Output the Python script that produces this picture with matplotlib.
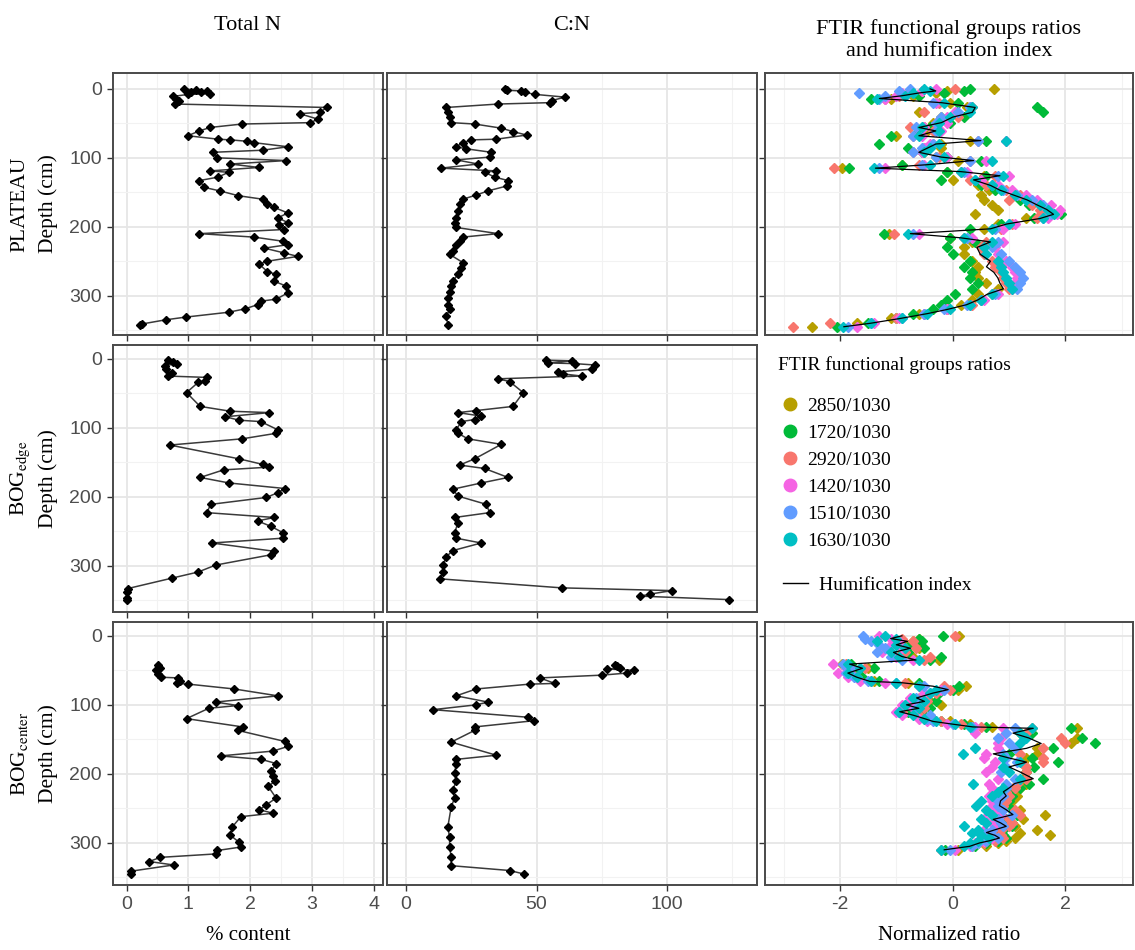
"""
Perfiles de N total, C:N y razones FTIR en PLATEAU, BOG edge y BOG center
"""
import matplotlib
matplotlib.use('Agg')
import matplotlib.pyplot as plt
from matplotlib.lines import Line2D

plt.rcParams['font.family'] = ['Liberation Serif', 'DejaVu Serif']
plt.rcParams['mathtext.fontset'] = 'stix'
plt.rcParams['axes.unicode_minus'] = False

# ---- Total N (%) ----
n_plateau_depth = [0, 2, 3, 4, 5, 7, 8, 11, 14, 18, 22, 27, 34, 36, 44, 49, 51, 56, 61, 68,
                   73, 74, 76, 78, 84, 89, 92, 100, 104, 109, 114, 119, 121, 128, 133, 143,
                   148, 155, 160, 167, 172, 180, 187, 194, 197, 204, 210, 215, 221, 226, 231,
                   238, 243, 250, 254, 265, 269, 279, 286, 296, 305, 308, 313, 319, 324, 331,
                   335, 341, 343]
n_plateau = [0.93, 1.13, 1.3, 1.05, 1.2, 1.35, 1.0, 0.75, 0.8, 0.85, 0.78, 3.24, 3.13, 2.8,
             3.1, 2.97, 1.87, 1.35, 1.18, 0.99, 1.48, 1.68, 1.95, 2.06, 2.61, 2.2, 1.4, 1.46,
             2.58, 1.68, 2.14, 1.35, 1.65, 1.48, 1.18, 1.26, 1.51, 1.81, 2.2, 2.28, 2.39, 2.61,
             2.45, 2.61, 2.47, 2.55, 1.18, 2.06, 2.53, 2.61, 2.23, 2.55, 2.77, 2.28, 2.14,
             2.28, 2.42, 2.39, 2.58, 2.61, 2.42, 2.17, 2.12, 1.92, 1.65, 0.96, 0.63, 0.25, 0.22]

n_edge_depth = [2, 4, 7, 10, 15, 20, 25, 27, 32, 34, 49, 69, 76, 78, 84, 89, 91, 103, 108, 116,
                125, 145, 153, 157, 161, 172, 180, 188, 194, 201, 211, 223, 230, 235, 243, 252,
                260, 267, 279, 284, 299, 309, 318, 333, 338, 346, 350]
n_edge = [0.67, 0.75, 0.81, 0.62, 0.64, 0.73, 0.67, 1.3, 1.27, 1.16, 0.97, 1.19, 1.68, 2.31,
          1.6, 1.82, 2.17, 2.45, 2.42, 1.87, 0.7, 1.82, 2.2, 2.31, 1.57, 1.19, 1.66, 2.56, 2.45,
          2.26, 1.36, 1.3, 2.39, 2.12, 2.34, 2.53, 2.53, 1.38, 2.39, 2.34, 1.44, 1.16, 0.73,
          0.02, 0.0, 0.0, 0.0]

n_center_depth = [42, 47, 50, 56, 60, 61, 65, 69, 70, 77, 87, 96, 101, 105, 120, 132, 137, 153,
                  160, 167, 174, 179, 185, 196, 203, 211, 218, 235, 245, 252, 257, 262, 277, 289,
                  299, 306, 311, 316, 321, 327, 332, 341, 345]
n_center = [0.51, 0.54, 0.48, 0.51, 0.55, 0.84, 0.86, 0.81, 1.0, 1.74, 2.45, 1.44, 1.8, 1.33,
            0.97, 1.88, 1.8, 2.56, 2.62, 2.37, 1.52, 2.18, 2.42, 2.34, 2.37, 2.4, 2.29, 2.42,
            2.26, 2.15, 2.37, 1.85, 1.71, 1.68, 1.82, 1.85, 1.47, 1.44, 0.54, 0.37, 0.76, 0.07,
            0.07]

# ---- C:N ----
cn_plateau_depth = [0, 2, 3, 5, 8, 12, 17, 20, 22, 27, 34, 41, 49, 51, 57, 62, 67, 73, 74, 78,
                    84, 87, 92, 99, 103, 109, 115, 119, 121, 128, 133, 141, 148, 154, 160, 167,
                    177, 187, 194, 201, 210, 215, 221, 226, 235, 240, 252, 260, 269, 279, 286,
                    294, 303, 313, 320, 330, 342]
cn_plateau = [37.8, 38.5, 44.2, 45.5, 49.4, 60.9, 55.8, 55.1, 35.3, 15.4, 16.0, 16.7, 17.3,
              26.3, 36.5, 41.0, 46.2, 34.6, 25.0, 21.8, 19.2, 23.1, 32.7, 32.0, 19.2, 27.6,
              13.5, 34.6, 30.1, 34.0, 39.1, 38.5, 31.4, 26.9, 21.8, 20.5, 19.9, 19.2, 18.6,
              19.2, 35.3, 21.8, 20.5, 19.2, 17.9, 16.7, 21.8, 21.2, 19.9, 17.9, 17.3, 16.7,
              16.0, 16.0, 16.7, 15.4, 16.0]

cn_edge_depth = [2, 3, 6, 7, 9, 15, 19, 22, 25, 29, 33, 49, 69, 75, 78, 83, 88, 91, 103, 108,
                 116, 124, 145, 154, 159, 172, 180, 189, 199, 211, 223, 230, 238, 252, 260, 267,
                 278, 287, 299, 309, 319, 332, 336, 341, 344, 349]
cn_edge = [53.8, 63.5, 54.5, 64.7, 72.4, 71.2, 58.3, 60.3, 67.3, 35.3, 39.7, 44.9, 41.0, 26.9,
           19.9, 28.8, 26.3, 21.2, 19.2, 19.9, 23.7, 36.5, 26.3, 20.5, 30.1, 39.1, 28.8, 17.9,
           19.9, 30.8, 32.0, 18.6, 19.9, 18.6, 19.2, 28.8, 17.9, 15.4, 14.1, 14.1, 13.2, 59.6,
           101.9, 93.6, 89.7, 123.7]

cn_center_depth = [42, 44, 47, 48, 50, 54, 57, 61, 69, 70, 77, 87, 96, 100, 107, 118, 123, 132,
                   137, 154, 173, 179, 186, 199, 211, 223, 235, 248, 277, 292, 306, 321, 333,
                   340, 345]
cn_center = [80.1, 81.0, 82.0, 77.0, 87.2, 84.6, 75.0, 51.3, 57.0, 47.4, 26.9, 19.2, 31.4, 26.9,
             10.3, 46.8, 49.0, 26.3, 26.3, 17.3, 34.6, 19.2, 19.2, 18.6, 19.2, 17.9, 18.6, 17.3,
             16.0, 16.7, 16.7, 17.3, 17.3, 39.7, 45.1]

# ---- FTIR (razones normalizadas) e índice de humificación ----
ratio_names = ['2850/1030', '1720/1030', '2920/1030', '1420/1030', '1510/1030', '1630/1030']
ratio_colors = ['#B79F00', '#00BA38', '#F8766D', '#F564E3', '#619CFF', '#00BFC4']

ftir_plateau_depth = [0, 3, 6, 10, 14, 20, 27, 34, 41, 49, 56, 61, 68, 75, 80, 86, 92, 99, 104,
                      110, 115, 120, 126, 132, 140, 147, 154, 161, 168, 175, 182, 188, 196, 203,
                      210, 216, 222, 230, 240, 250, 258, 266, 274, 282, 290, 298, 306, 313, 320,
                      326, 333, 340, 345]
hi_plateau = [-0.4, -0.3, -0.6, -0.9, -1.3, -0.2, 0.4, 0.35, 0.0, -0.2, -0.6, -0.3, -0.6, 0.5,
              -0.3, -0.45, -0.6, -0.2, 0.37, -0.45, -1.37, 0.14, 0.84, 0.37, 0.67, 0.84, 1.08,
              1.32, 1.49, 1.67, 1.79, 1.55, 0.96, 0.67, -0.75, 0.14, 0.67, 0.43, 0.49, 0.67,
              0.6, 0.73, 0.8, 0.84, 0.9, 0.61, 0.45, 0.25, -0.1, -0.45, -0.93, -1.46, -1.93]
r2850_plateau = [0.73, -0.1, -0.3, -0.7, -1.1, -0.05, 0.25, -0.6, -0.2, -0.35, -0.5, -0.45,
                 -1.0, 0.3, -0.2, -0.2, -0.5, -0.3, 0.1, -0.9, -1.96, -0.1, 0.55, 0.0, 0.45,
                 0.65, 0.5, 0.55, 0.7, 0.8, 0.4, 1.3, 0.8, 0.55, -1.13, -0.05, 0.35, 0.2, 0.2,
                 0.35, 0.45, 0.4, 0.45, 0.6, 0.8, 0.45, 0.35, 0.15, -0.1, -0.6, -1.1, -1.7, -2.49]
r1720_plateau = [0.3, 0.2, -0.15, -0.6, -1.45, 0.1, 1.49, 1.61, 0.2, -0.05, -0.4, -0.6, -1.1,
                 0.6, -1.3, -0.8, -0.55, -0.1, 0.5, -0.9, -1.84, -0.1, 0.6, -0.2, 0.5, 0.75,
                 1.1, 1.2, 1.35, 1.6, 1.93, 1.45, 0.85, 0.3, -1.22, -0.05, 0.4, -0.1, 0.0, 0.3,
                 0.2, 0.35, 0.3, 0.45, 0.35, 0.05, -0.1, -0.2, -0.35, -0.7, -1.0, -1.5, -2.06]
r2920_plateau = [0.05, -0.55, -0.8, -0.95, -1.2, -0.25, 0.35, -0.5, 0.1, -0.3, -0.75, -0.35,
                 -0.7, 0.45, -0.35, -0.5, -0.7, -0.25, 0.3, -0.6, -2.1, 0.15, 0.75, 0.3, 0.6,
                 0.95, 1.2, 1.0, 1.4, 1.55, 1.7, 1.5, 1.05, 0.85, -1.04, 0.2, 0.6, 0.5, 0.55,
                 0.7, 0.75, 0.85, 0.9, 0.95, 1.0, 0.7, 0.5, 0.35, -0.1, -0.5, -1.0, -2.17, -2.84]
r1420_plateau = [-0.3, -0.55, -0.9, -1.0, -1.2, -0.3, 0.3, 0.05, -0.1, -0.1, -0.5, -0.2, -0.55,
                 0.95, -0.4, -0.5, -0.55, -0.1, 0.6, -0.5, -1.2, 0.25, 1.0, 0.5, 0.8, 1.05, 1.3,
                 1.5, 1.75, 1.9, 1.85, 1.7, 1.1, 0.9, -0.6, 0.35, 0.9, 0.75, 0.8, 0.95, 1.05,
                 1.1, 1.15, 1.1, 1.05, 0.8, 0.55, 0.3, -0.1, -0.5, -0.95, -1.4, -1.7]
r1510_plateau = [-0.75, -0.95, -1.66, -1.2, -1.3, -0.35, 0.3, 0.1, -0.2, -0.3, -0.65, -0.3,
                 -0.7, 0.45, -0.35, -0.55, -0.7, -0.3, 0.3, -0.55, -1.3, 0.2, 0.8, 0.4, 0.7,
                 0.9, 1.15, 1.4, 1.6, 1.7, 1.75, 1.6, 1.0, 0.75, -0.7, 0.25, 0.8, 0.7, 0.85, 1.0,
                 1.1, 1.2, 1.25, 1.2, 1.15, 0.75, 0.5, 0.25, -0.15, -0.5, -0.9, -1.45, -1.85]
r1630_plateau = [-0.5, -0.4, -0.7, -0.85, -1.35, -0.15, 0.35, 0.3, -0.05, -0.25, -0.55, -0.25,
                 -0.6, 0.95, -0.25, -0.4, -0.5, -0.15, 0.7, -0.4, -1.4, 0.15, 0.9, 0.4, 0.7,
                 0.85, 1.1, 1.3, 1.55, 1.7, 1.8, 1.6, 1.0, 0.7, -0.8, 0.2, 0.7, 0.55, 0.6, 0.8,
                 0.85, 0.9, 0.95, 1.0, 1.05, 0.7, 0.5, 0.3, -0.05, -0.45, -0.9, -1.45, -1.95]

ftir_center_depth = [0, 4, 8, 13, 18, 24, 30, 35, 41, 47, 54, 60, 66, 68, 73, 78, 83, 90, 95,
                     100, 105, 110, 115, 120, 124, 128, 132, 134, 141, 148, 156, 163, 171, 177,
                     183, 190, 197, 207, 214, 220, 226, 232, 239, 246, 252, 259, 266, 271, 276,
                     281, 285, 289, 293, 297, 300, 305, 310]
hi_center = [-0.9, -1.1, -0.8, -1.0, -0.75, -1.05, -0.9, -0.65, -1.83, -1.6, -1.86, -1.7, -1.47,
             -0.9, -0.35, -0.08, -0.35, -0.64, -0.5, -0.82, -0.6, -0.94, -0.7, -0.5, -0.35, 0.0,
             0.36, 1.43, 1.07, 1.35, 1.57, 1.31, 0.72, 1.0, 1.31, 1.0, 1.19, 1.43, 1.1, 1.01,
             0.9, 0.95, 0.85, 0.83, 0.95, 1.07, 0.72, 0.85, 0.95, 0.75, 0.6, 0.75, 0.83, 0.65,
             0.48, 0.3, -0.15]
r2850_center = [0.12, -0.6, -0.7, -0.8, -0.6, -0.9, -0.7, -0.25, -1.97, -1.5, -1.8, -1.65, -1.4,
                -0.8, 0.24, 0.1, -0.3, -0.5, -0.4, -0.2, -0.5, -0.85, -0.6, -0.4, -0.05, 0.3,
                0.7, 2.2, 1.2, 2.2, 2.1, 1.5, 1.49, 1.3, 1.25, 1.3, 1.3, 1.25, 1.3, 1.2, 1.1,
                1.15, 1.05, 1.0, 1.2, 1.63, 1.25, 1.05, 1.1, 1.49, 1.2, 1.72, 1.1, 0.95, 0.8,
                0.6, 0.1]
r1720_center = [-0.18, -0.6, -0.55, -0.75, -0.5, -0.8, -0.2, -0.4, -1.8, -1.4, -1.75, -1.6,
                -1.3, -0.6, 0.12, 0.0, -0.25, -0.55, -0.3, -0.7, -0.4, -0.8, -0.5, -0.45, -0.2,
                0.2, 0.6, 2.1, 1.4, 2.3, 2.52, 1.78, 1.0, 1.4, 1.87, 1.45, 1.3, 1.6, 1.35, 1.2,
                1.0, 1.05, 1.0, 0.95, 1.05, 1.15, 0.95, 0.9, 1.05, 0.9, 0.75, 0.9, 0.95, 0.8,
                0.6, 0.4, -0.14]
r2920_center = [0.05, -0.9, -0.7, -0.9, -0.65, -0.85, -0.4, -0.5, -1.9, -1.55, -1.8, -1.7,
                -1.45, -0.85, -0.15, -0.05, -0.3, -0.6, -0.45, -0.75, -0.5, -0.9, -0.6, -0.35,
                -0.2, 0.15, 0.5, 1.4, 1.3, 1.93, 2.0, 1.6, 1.2, 1.6, 1.6, 1.3, 1.3, 1.3, 1.15,
                1.1, 0.95, 1.0, 0.95, 0.9, 1.1, 1.2, 1.0, 1.05, 1.0, 0.85, 0.7, 0.85, 0.9, 0.75,
                0.55, 0.35, -0.2]
r1420_center = [-1.3, -1.1, -0.95, -1.1, -0.9, -1.25, -1.0, -0.7, -2.12, -1.9, -2.03, -1.85,
                -1.65, -1.2, -0.6, -0.2, -0.5, -0.75, -0.6, -0.9, -0.7, -1.0, -0.9, -0.6, -0.45,
                -0.1, 0.4, 0.9, 0.39, 0.85, 0.8, 0.8, 0.6, 0.55, 0.75, 0.7, 0.6, 0.8, 0.65, 0.7,
                0.75, 0.65, 0.7, 0.7, 0.8, 0.85, 0.55, 0.7, 0.75, 0.55, 0.5, 0.6, 0.7, 0.55,
                0.4, 0.3, 0.05]
r1510_center = [-1.59, -1.55, -1.45, -1.3, -1.2, -1.35, -1.1, -0.9, -1.95, -1.8, -1.9, -1.75,
                -1.5, -1.0, -0.5, -0.15, -0.4, -0.65, -0.5, -0.85, -0.65, -0.95, -0.4, -0.45,
                -0.35, 0.0, 0.35, 1.1, 0.95, 0.8, 1.0, 1.1, 0.9, 0.95, 1.15, 0.95, 0.85, 1.1,
                0.95, 0.95, 0.85, 0.9, 0.8, 0.8, 0.9, 1.05, 0.8, 0.85, 0.9, 0.7, 0.6, 0.7, 0.8,
                0.6, 0.45, 0.35, -0.05]
r1630_center = [-1.2, -1.0, -1.35, -1.0, -0.85, -1.1, -0.95, -0.6, -1.85, -1.65, -1.85, -1.7,
                -1.45, -1.0, -0.6, -0.3, -0.4, -0.7, -0.5, -0.85, -0.6, -0.95, -0.7, -0.5, -0.3,
                0.05, 0.3, 1.4, 1.2, 1.3, 1.2, 0.4, 0.18, 0.9, 1.2, 0.9, 1.0, 1.2, 0.36, 0.9,
                0.8, 0.7, 0.5, 0.42, 0.6, 0.7, 0.5, 0.6, 0.21, 0.45, 0.35, 0.5, 0.65, 0.45, 0.3,
                0.2, -0.2]

ftir_plateau = [r2850_plateau, r1720_plateau, r2920_plateau,
                r1420_plateau, r1510_plateau, r1630_plateau]
ftir_center = [r2850_center, r1720_center, r2920_center,
               r1420_center, r1510_center, r1630_center]

# ---- layout (fracciones de figura) ----
W, H = 1135, 950
col_x = [(113, 383), (387, 757), (765, 1133)]
row_y = [(73, 335), (345, 612), (622, 885)]
row_names = ['PLATEAU', r'BOG$_{\mathrm{edge}}$', r'BOG$_{\mathrm{center}}$']

xlims = [(-0.22, 4.15), (-7.3, 134.5), (-3.33, 3.2)]
xmajor = [[0, 1, 2, 3, 4], [0, 50, 100], [-2, 0, 2]]
xminor = [[0.5, 1.5, 2.5, 3.5], [25, 75, 125], [-3, -1, 1, 3]]
ylims = [(357, -23), (367, -20), (361, -20)]

fig = plt.figure(figsize=(W / 100, H / 100), dpi=100)


def make_ax(r, c):
    x0, x1 = col_x[c]
    y0, y1 = row_y[r]
    ax = fig.add_axes([x0 / W, 1 - y1 / H, (x1 - x0) / W, (y1 - y0) / H])
    ax.set_xlim(xlims[c])
    ax.set_ylim(ylims[r])
    ax.set_xticks(xmajor[c])
    ax.set_xticks(xminor[c], minor=True)
    ax.set_yticks([0, 100, 200, 300])
    ax.set_yticks([50, 150, 250, 350], minor=True)
    ax.grid(True, which='major', color='#E6E6E6', linewidth=1.3)
    ax.grid(True, which='minor', color='#F2F2F2', linewidth=0.8)
    ax.set_axisbelow(True)
    for s in ax.spines.values():
        s.set_color('#4A4A4A')
        s.set_linewidth(1.4)
    ax.tick_params(which='major', length=4, width=1.0, color='#333333',
                   labelcolor='#4D4D4D', labelsize=14, pad=4)
    ax.tick_params(which='minor', length=0)
    for lab in ax.get_xticklabels() + ax.get_yticklabels():
        lab.set_fontfamily('Liberation Sans')
    if r < 2:
        ax.tick_params(axis='x', labelbottom=False)
    if c > 0:
        ax.tick_params(axis='y', labelleft=False)
    return ax


def depth_profile(ax, vals, depth):
    ax.plot(vals, depth, color='#3A3A3A', linewidth=1.1, zorder=2)
    ax.plot(vals, depth, linestyle='none', marker='D', markersize=4.5,
            color='black', zorder=3)


def ftir_panel(ax, series, hi, depth):
    for vals, col in zip(series, ratio_colors):
        ax.plot(vals, depth, linestyle='none', marker='D', markersize=5.5,
                color=col, zorder=2)
    ax.plot(hi, depth, color='black', linewidth=0.9, zorder=3)


n_data = [(n_plateau, n_plateau_depth), (n_edge, n_edge_depth), (n_center, n_center_depth)]
cn_data = [(cn_plateau, cn_plateau_depth), (cn_edge, cn_edge_depth),
           (cn_center, cn_center_depth)]
ftir_data = {0: (ftir_plateau, hi_plateau, ftir_plateau_depth),
             2: (ftir_center, hi_center, ftir_center_depth)}

for r in range(3):
    ax = make_ax(r, 0)
    depth_profile(ax, *n_data[r])
    ax = make_ax(r, 1)
    depth_profile(ax, *cn_data[r])
    if r in ftir_data:
        ax = make_ax(r, 2)
        ftir_panel(ax, *ftir_data[r])

    # etiquetas de fila
    yc = 1 - (row_y[r][0] + row_y[r][1]) / 2 / H
    fig.text(20 / W, yc, row_names[r], rotation=90, ha='center', va='center', fontsize=15.5)
    fig.text(48 / W, yc, 'Depth (cm)', rotation=90, ha='center', va='center', fontsize=15.5)

# titulos de columna
fig.text(248 / W, 1 - 25 / H, 'Total N', ha='center', va='center', fontsize=16)
fig.text(572 / W, 1 - 25 / H, 'C:N', ha='center', va='center', fontsize=16)
fig.text(949 / W, 1 - 40 / H, 'FTIR functional groups ratios\nand humification index',
         ha='center', va='center', fontsize=16, linespacing=1.25)

# titulos de eje x
fig.text(248 / W, 1 - 935 / H, '% content', ha='center', va='center', fontsize=15)
fig.text(949 / W, 1 - 935 / H, 'Normalized ratio', ha='center', va='center', fontsize=15)

# leyenda
fig.text(778 / W, 1 - 365 / H, 'FTIR functional groups ratios', ha='left', va='center',
         fontsize=14)
leg_ax = fig.add_axes([765 / W, 1 - 612 / H, 368 / W, 267 / H])
leg_ax.axis('off')
handles = [Line2D([], [], linestyle='none', marker='o', markersize=9, color=c)
           for c in ratio_colors]
leg1 = leg_ax.legend(handles, ratio_names, loc='upper left', bbox_to_anchor=(0.0, 0.855),
                     frameon=False, prop={'size': 14}, labelspacing=0.48,
                     handletextpad=0.25, handlelength=1.2, borderaxespad=0.3)
leg_ax.add_artist(leg1)
hi_handle = Line2D([], [], color='black', linewidth=1.0)
leg_ax.legend([hi_handle], ['Humification index'], loc='upper left',
              bbox_to_anchor=(0.0, 0.2), frameon=False, prop={'size': 14},
              handlelength=1.3, handletextpad=0.6)

plt.savefig('out.png', dpi=100)
